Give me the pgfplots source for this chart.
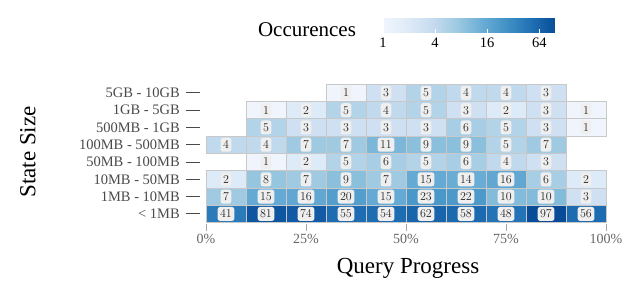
\documentclass[border=0pt]{standalone}
\usepackage{pgfplots}
\pgfplotsset{compat=1.18}
\usepackage{pgfplotstable}
\usepackage{fontspec}
\setmainfont{Liberation Serif}

\definecolor{cellborder}{HTML}{C8C8C8}
\definecolor{labelbg}{HTML}{EFEFEF}
\definecolor{ticktxt}{HTML}{666666}
\definecolor{ylab}{HTML}{4A4A4A}
\definecolor{b0}{RGB}{240,245,253}
\definecolor{b1}{RGB}{222,235,247}
\definecolor{b2}{RGB}{198,219,239}
\definecolor{b3}{RGB}{158,202,225}
\definecolor{b4}{RGB}{107,174,214}
\definecolor{b5}{RGB}{66,146,198}
\definecolor{b6}{RGB}{33,113,181}
\definecolor{b7}{RGB}{8,76,152}

\pgfplotstableread{
x y v
5 0 41
15 0 81
25 0 74
35 0 55
45 0 54
55 0 62
65 0 58
75 0 48
85 0 97
95 0 56
5 1 7
15 1 15
25 1 16
35 1 20
45 1 15
55 1 23
65 1 22
75 1 10
85 1 10
95 1 3
5 2 2
15 2 8
25 2 7
35 2 9
45 2 7
55 2 15
65 2 14
75 2 16
85 2 6
95 2 2
15 3 1
25 3 2
35 3 5
45 3 6
55 3 5
65 3 6
75 3 4
85 3 3
5 4 4
15 4 4
25 4 7
35 4 7
45 4 11
55 4 9
65 4 9
75 4 5
85 4 7
15 5 5
25 5 3
35 5 3
45 5 3
55 5 3
65 5 6
75 5 5
85 5 3
95 5 1
15 6 1
25 6 2
35 6 5
45 6 4
55 6 5
65 6 3
75 6 2
85 6 3
95 6 1
35 7 1
45 7 3
55 7 5
65 7 4
75 7 4
85 7 3
}\cells

\newcommand{\ydash}{\hspace{6pt}\textcolor{ylab}{\rule[0.3em]{14pt}{0.9pt}}}

\begin{document}
\begin{tikzpicture}
\begin{axis}[
  name=ax,
  x=4pt, y=17.3pt,
  xmin=0, xmax=100, ymin=-0.5, ymax=7.5,
  axis line style={draw=none},
  clip=false,
  xtick={0,25,50,75,100},
  xticklabels={0\%,25\%,50\%,75\%,100\%},
  ytick={0,...,7},
  yticklabels={{\textless{} 1MB\ydash},{1MB - 10MB\ydash},{10MB - 50MB\ydash},{50MB - 100MB\ydash},{100MB - 500MB\ydash},{500MB - 1GB\ydash},{1GB - 5GB\ydash},{5GB - 10GB\ydash}},
  xtick pos=left, ytick pos=left,
  tick align=outside,
  major tick length=7pt,
  xtick style={draw=gray!70, line width=0.8pt, yshift=-1.4pt},
  ytick style={draw=none},
  xticklabel style={font=\fontsize{14}{14}\selectfont, text=ticktxt, yshift=-1pt},
  yticklabel style={font=\fontsize{14.5}{14.5}\selectfont, text=ylab, inner sep=0pt, anchor=east, xshift=1pt},
  colormap={blues}{color=(b0) color=(b1) color=(b2) color=(b3) color=(b4) color=(b5) color=(b6) color=(b7)},
  point meta min=0, point meta max=6.6,
  colorbar horizontal,
  colorbar style={
    at={(parent axis.south west)}, anchor=south west,
    xshift=177pt, yshift=198.6pt,
    scale only axis, width=172pt, height=19pt,
    axis on top,
    axis line style={draw=none},
    xtick={0,2,4,6}, xticklabels={1,4,16,64},
    xtick pos=both, xticklabel pos=lower,
    tick align=inside, major tick length=3.5pt,
    xtick style={draw=white, line width=0.8pt, yshift=0pt},
    xticklabel style={font=\fontsize{14.5}{14.5}\selectfont, text=black, yshift=-2pt},
    ytick=\empty,
  },
]
% cells
\addplot[scatter, only marks, mark=square*, mark size=8.65pt,
  every mark/.append style={xscale=2.312},
  scatter/use mapped color={draw=cellborder, fill=mapped color, line width=0.9pt},
  point meta=\thisrow{c},
] table[create on use/c/.style={create col/expr={ln(\thisrow{v})/ln(2)}}] {\cells};
% labels
\addplot[only marks, mark=*, mark size=0pt,
  mark options={draw=none, fill=none},
  visualization depends on={\thisrow{v}\as\val},
  nodes near coords={\pgfmathprintnumber{\val}},
  every node near coord/.style={anchor=center, fill=labelbg, draw=none, rounded corners=2.5pt, inner xsep=2.5pt, inner ysep=0pt, minimum height=14pt, font=\fontsize{12}{12}\selectfont, text=black!85},
] table {\cells};
\end{axis}
\node[font=\fontsize{23}{23}\selectfont] at ([shift={(202pt,-45.4pt)}]ax.south west) {Query Progress};
\node[font=\fontsize{23}{23}\selectfont, rotate=90] at ([shift={(-178pt,70.6pt)}]ax.south west) {State Size};
\node[font=\fontsize{21}{21}\selectfont] at ([shift={(101pt,192.6pt)}]ax.south west) {Occurences};
\pgfresetboundingbox
\path[use as bounding box] ([shift={(-206pt,-66.4pt)}]ax.south west) rectangle ++(635pt,289pt);
\end{tikzpicture}
\end{document}
